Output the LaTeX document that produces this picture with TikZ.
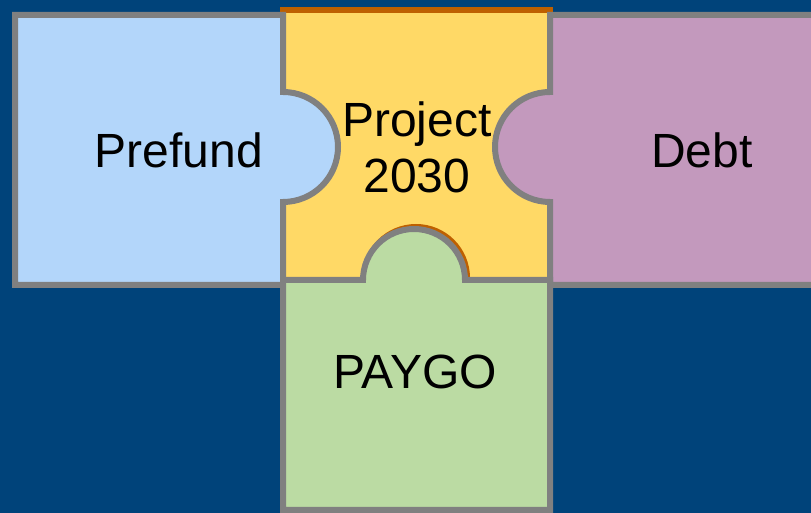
\documentclass[tikz,border=0pt]{standalone}
\usepackage{fontspec}
\setmainfont{Liberation Sans}
\usepackage{xcolor}
\usetikzlibrary{positioning}
\definecolor{bgblue}{RGB}{0,67,122}
\definecolor{edgegray}{RGB}{128,128,128}
\definecolor{edgeorange}{RGB}{190,96,0}
\definecolor{prefundblue}{RGB}{179,214,250}
\definecolor{projyellow}{RGB}{255,217,102}
\definecolor{debtpurple}{RGB}{195,153,189}
\definecolor{paygogreen}{RGB}{187,219,163}
\tikzset{
    piece/.style={draw=edgegray, line width=4.5pt},
    label/.style={font=\fontsize{36}{42}\selectfont, text=black, inner sep=0pt, align=center}
}

\begin{document}
\begin{tikzpicture}[x=0.75pt, y=0.75pt]
    \useasboundingbox (0,0) rectangle (811,513);
    \clip (0,0) rectangle (811,513);
    \fill [bgblue] (0,0) rectangle (811,513);

    % middle piece first, the others sit on top of it
    \draw [piece, draw=edgeorange, fill=projyellow] (283,233) rectangle (550,503);
    \draw [edgeorange, line width=4.5pt] (365,235) arc[start angle=180, end angle=0, radius=51];

    \draw [piece, fill=prefundblue] (15,228) -- (15,498) -- (283,498) -- (283,421)
        arc[start angle=90, end angle=-90, radius=55] -- (283,228) -- cycle;
    \draw [piece, fill=debtpurple] (830,498) -- (550,498) -- (550,421)
        arc[start angle=90, end angle=270, radius=55] -- (550,228) -- (830,228) -- cycle;
    \draw [piece, fill=paygogreen] (283,3) -- (283,233) -- (363,233)
        arc[start angle=180, end angle=0, radius=51] -- (550,233) -- (550,3) -- cycle;

    \node [label, anchor=base] (Prefund) at (179,345) {Prefund};
    \node [label] (Project) at (417,365.5) {Project\\2030};
    \node [label, anchor=base] (Debt) at (702,345) {Debt};
    \node [label, anchor=base] (Paygo) at (415,124) {PAYGO};
\end{tikzpicture}
\end{document}
